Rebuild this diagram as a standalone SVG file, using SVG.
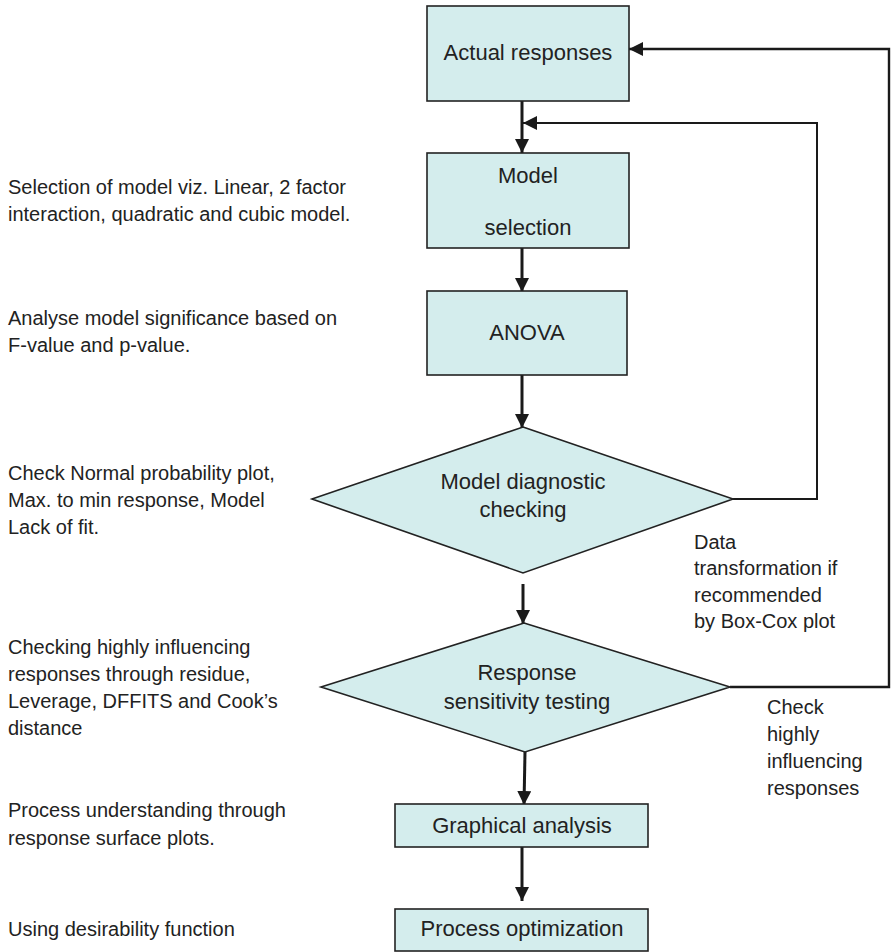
<svg xmlns="http://www.w3.org/2000/svg" width="891" height="952" viewBox="0 0 891 952">
<defs>
<style>
.box{fill:#d4eded;stroke:#222;stroke-width:1.6}
.t{font-family:"Liberation Sans",Arial,sans-serif;fill:#222}
.bt{font-size:22px;text-anchor:middle}
.lt{font-size:20px}
.c{fill:none;stroke:#1a1a1a;stroke-width:3}
.f{fill:none;stroke:#1a1a1a;stroke-width:2}
</style>
<marker id="ah" markerUnits="userSpaceOnUse" markerWidth="14" markerHeight="14" viewBox="0 0 14 14" refX="14" refY="7" orient="auto">
<path d="M0,0 L14,7 L0,14 z" fill="#1a1a1a"/>
</marker>
</defs>
<rect width="891" height="952" fill="#fff"/>

<g id="connectors">
<line class="c" x1="522" y1="101" x2="522" y2="153" marker-end="url(#ah)"/>
<line class="c" x1="522" y1="248" x2="522" y2="292" marker-end="url(#ah)"/>
<line class="c" x1="522" y1="375" x2="522" y2="428" marker-end="url(#ah)"/>
<line class="c" x1="523" y1="584" x2="523" y2="624" marker-end="url(#ah)"/>
<line class="c" x1="525" y1="752" x2="524" y2="805" marker-end="url(#ah)"/>
<line class="c" x1="522" y1="847" x2="522" y2="901" marker-end="url(#ah)"/>
<polyline class="f" points="733,499 817,499 817,123 523,123" marker-end="url(#ah)"/>
<polyline class="f" points="730,687 889,687 889,49 629,49" marker-end="url(#ah)" style="stroke-width:2.4"/>
</g>

<g id="actual-responses">
<rect class="box" x="427" y="6" width="202" height="95"/>
<text class="t bt" x="528" y="60">Actual responses</text>
</g>
<g id="model-selection">
<rect class="box" x="427" y="153" width="202" height="95"/>
<text class="t bt" x="528" y="183">Model</text>
<text class="t bt" x="528" y="235">selection</text>
</g>
<g id="anova">
<rect class="box" x="427" y="291" width="200" height="84"/>
<text class="t bt" x="527" y="340">ANOVA</text>
</g>
<g id="model-diagnostic">
<polygon class="box" points="523,427 733,499 523,573 312,499"/>
<text class="t bt" x="523" y="489">Model diagnostic</text>
<text class="t bt" x="523" y="517">checking</text>
</g>
<g id="response-sensitivity">
<polygon class="box" points="524,623 730,687 525,752 321,687"/>
<text class="t bt" x="527" y="680">Response</text>
<text class="t bt" x="527" y="709">sensitivity testing</text>
</g>
<g id="graphical-analysis">
<rect class="box" x="395" y="804" width="253" height="43"/>
<text class="t bt" x="522" y="833">Graphical analysis</text>
</g>
<g id="process-optimization">
<rect class="box" x="395" y="909" width="253" height="42"/>
<text class="t bt" x="522" y="936">Process optimization</text>
</g>

<g id="labels">
<text class="t lt" x="694" y="549">Data</text>
<text class="t lt" x="694" y="575">transformation if</text>
<text class="t lt" x="694" y="602">recommended</text>
<text class="t lt" x="694" y="628">by Box-Cox plot</text>
<text class="t lt" x="767" y="714">Check</text>
<text class="t lt" x="767" y="741">highly</text>
<text class="t lt" x="767" y="768">influencing</text>
<text class="t lt" x="767" y="795">responses</text>
</g>

<g id="notes">
<text class="t lt" x="8" y="194">Selection of model viz. Linear, 2 factor</text>
<text class="t lt" x="8" y="221">interaction, quadratic and cubic model.</text>
<text class="t lt" x="8" y="325">Analyse model significance based on</text>
<text class="t lt" x="8" y="352">F-value and p-value.</text>
<text class="t lt" x="8" y="480">Check Normal probability plot,</text>
<text class="t lt" x="8" y="507">Max. to min response, Model</text>
<text class="t lt" x="8" y="534">Lack of fit.</text>
<text class="t lt" x="8" y="654">Checking highly influencing</text>
<text class="t lt" x="8" y="681">responses through residue,</text>
<text class="t lt" x="8" y="708">Leverage, DFFITS and Cook’s</text>
<text class="t lt" x="8" y="735">distance</text>
<text class="t lt" x="8" y="817">Process understanding through</text>
<text class="t lt" x="8" y="845">response surface plots.</text>
<text class="t lt" x="8" y="936">Using desirability function</text>
</g>
</svg>
